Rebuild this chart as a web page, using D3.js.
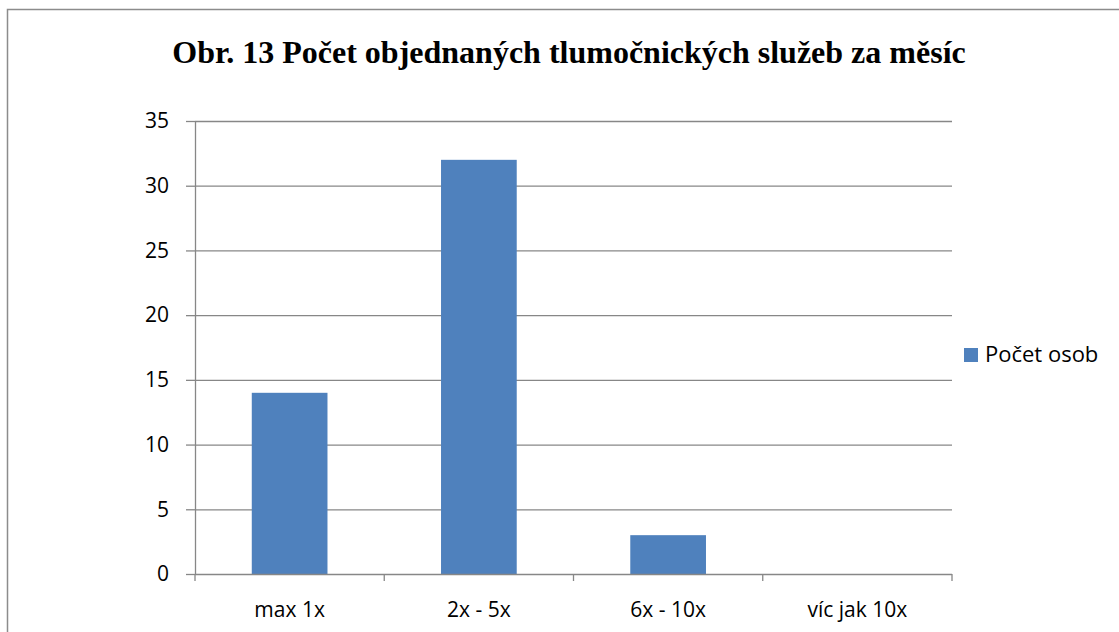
<!DOCTYPE html>
<html>
<head>
<meta charset="utf-8">
<script src="https://cdn.jsdelivr.net/npm/d3@7"></script>
<style>
  body{margin:0;background:#fff;}
</style>
</head>
<body>
<div id="chart"></div>
<script>
var width=1119,height=632;
var margin={left:195,top:121,right:167,bottom:58};

var categories=["max 1x","2x - 5x","6x - 10x","víc jak 10x"];
var values=[14,32,3,0];
var yTicks=[0,5,10,15,20,25,30,35];
var seriesName="Počet osob";
var title="Obr. 13 Počet objednaných tlumočnických služeb za měsíc";
var labelFont="'Open Sans','Liberation Sans',sans-serif";

var svg=d3.select("#chart").append("svg")
          .attr("width",width).attr("height",height);

// outer frame
svg.append("rect")
   .attr("x",7.5).attr("y",9.5)
   .attr("width",width+20).attr("height",height+20)
   .attr("fill","none").attr("stroke","#8c8c8c").attr("stroke-width",1.5)

svg.append("text")
   .attr("x",569).attr("y",63)
   .attr("text-anchor","middle")
   .style("font-family","'Liberation Serif','Times New Roman',serif")
   .style("font-weight","bold").style("font-size","32px")
   .text(title)

var w=width-margin.left-margin.right, h=height-margin.top-margin.bottom;
var g=svg.append("g").attr("transform","translate("+margin.left+","+margin.top+")")

var x=d3.scaleBand().domain(categories).range([0,w]).paddingInner(0.6).paddingOuter(0.3);
var y=d3.scaleLinear().domain([0,35]).range([h,0]);

// gridlines
g.append("g").selectAll("line")
 .data(yTicks.filter(d=>d>0))
 .enter().append("line")
 .attr("x1",0).attr("x2",w)
 .attr("y1",d=>y(d)+0.5).attr("y2",d=>y(d)+0.5)
 .attr("stroke","#878787").attr("stroke-width",1.3)

// y axis
var yAxis=d3.axisLeft(y).tickValues(yTicks).tickSize(9).tickPadding(17).tickSizeOuter(0);
var ya=g.append("g").attr("class","y-axis").call(yAxis)
ya.select(".domain").attr("stroke","#878787").attr("stroke-width",1.3)
ya.selectAll(".tick line").attr("stroke","#878787").attr("stroke-width",1.3)
ya.selectAll(".tick text").style("font-family",labelFont).style("font-size","21px").attr("fill","#000")

// bars
g.append("g").selectAll("rect")
 .data(values)
 .enter().append("rect")
 .attr("x",(d,i)=>x(categories[i]))
 .attr("width",x.bandwidth())
 .attr("y",d=>y(d))
 .attr("height",d=>h-y(d))
 .attr("fill","#4f81bd")

// x axis
var xa=g.append("g").attr("class","x-axis").attr("transform","translate(0,"+h+")")
var step=w/categories.length;
xa.append("line").attr("x1",0).attr("x2",w).attr("y1",0.5).attr("y2",0.5)
  .attr("stroke","#878787").attr("stroke-width",1.3)
xa.selectAll(".sep").data(d3.range(categories.length+1)).enter().append("line")
  .attr("x1",d=>d*step).attr("x2",d=>d*step).attr("y1",0).attr("y2",7)
  .attr("stroke","#878787").attr("stroke-width",1.3)
xa.selectAll(".lbl").data(categories).enter().append("text")
  .attr("x",d=>x(d)+x.bandwidth()/2).attr("y",43)
  .attr("text-anchor","middle")
  .style("font-family",labelFont).style("font-size","21px")
  .text(d=>d)

// legend
var leg=svg.append("g").attr("transform","translate(964,348)")
leg.append("rect").attr("width",14).attr("height",14).attr("fill","#4f81bd")
leg.append("text").attr("x",21).attr("y",14)
   .style("font-family",labelFont).style("font-size","22px")
   .text(seriesName)
</script>
</body>
</html>
